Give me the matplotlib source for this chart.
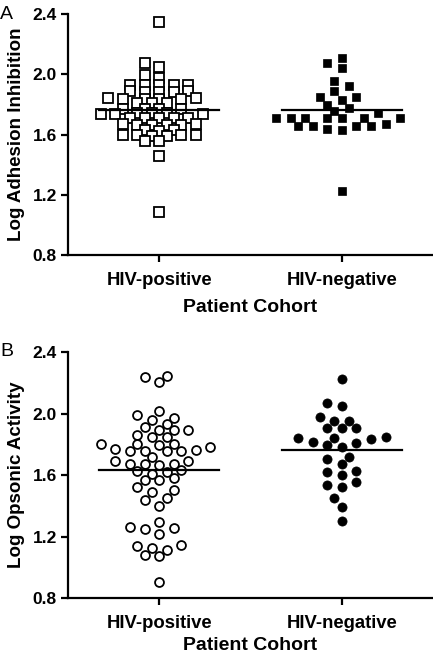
import matplotlib
matplotlib.use("Agg")
import matplotlib.pyplot as plt
import numpy as np

plt.rcParams['font.family'] = ['Liberation Sans', 'DejaVu Sans']

# data
cohorts = ["HIV-positive", "HIV-negative"]

adh_pos = [2.349, 2.078, 2.052, 1.997, 1.979,
           1.931, 1.929, 1.933, 1.930, 1.932,
           1.886, 1.888, 1.885, 1.887, 1.884,
           1.840, 1.838, 1.841, 1.839, 1.842, 1.837,
           1.808, 1.810, 1.807,
           1.772, 1.770, 1.773, 1.771,
           1.740, 1.742, 1.739, 1.741, 1.738, 1.743,
           1.712, 1.714, 1.711, 1.713, 1.710,
           1.666, 1.668, 1.665, 1.667, 1.664, 1.669,
           1.628, 1.630, 1.626,
           1.595, 1.597, 1.594, 1.596, 1.593, 1.598,
           1.556, 1.555, 1.457, 1.087]
adh_neg = [2.107, 2.078, 2.041, 1.959, 1.924, 1.891,
           1.848, 1.831, 1.853, 1.798, 1.777, 1.743, 1.754,
           1.712, 1.712, 1.712, 1.712, 1.712, 1.712, 1.712,
           1.655, 1.655, 1.638, 1.633, 1.655, 1.659, 1.673,
           1.225]

ops_pos = [2.235, 2.203, 2.246, 2.018, 1.988, 1.958, 1.932, 1.971,
           1.891, 1.891, 1.891, 1.910, 1.849, 1.849, 1.862,
           1.800, 1.797, 1.784, 1.800, 1.800,
           1.771, 1.763, 1.758, 1.754, 1.758, 1.758,
           1.719, 1.693, 1.693, 1.670, 1.672, 1.665, 1.672,
           1.633, 1.622, 1.607, 1.624, 1.578, 1.567, 1.567,
           1.524, 1.502, 1.487, 1.437, 1.452, 1.400,
           1.296, 1.253, 1.247, 1.260, 1.216,
           1.145, 1.128, 1.080, 1.073, 1.112, 1.140, 0.906]
ops_neg = [2.224, 2.051, 2.066, 1.979, 1.951, 1.951,
           1.904, 1.904, 1.908, 1.839, 1.832, 1.845, 1.817, 1.839,
           1.806, 1.780, 1.795, 1.704, 1.719, 1.672,
           1.617, 1.600, 1.628, 1.557, 1.535, 1.524,
           1.448, 1.394, 1.301]

yticks = [0.8, 1.2, 1.6, 2.0, 2.4]


def swarm(ax, vals, rx, ry, step=7.3):
    # beeswarm on a grid of half steps (pixel space), offsets in data units
    # two points collide when (dx/rx)^2 + (dy/ry)^2 < 1
    p0 = ax.transData.transform((0, 0))
    p1 = ax.transData.transform((1, 1))
    sx, sy = p1[0] - p0[0], p1[1] - p0[1]
    ys = np.asarray(vals) * sy
    xs = np.zeros(len(ys))
    placed = []
    order = [0] + [s * k for k in range(1, 20) for s in (-1, 1)]
    for i in np.argsort(ys, kind='stable'):
        y = ys[i]
        for k in order:
            c = k * step
            if all(((c - px) / rx) ** 2 + ((y - py) / ry) ** 2 >= 1 for px, py in placed):
                break
        xs[i] = c
        placed.append((c, y))
    return xs / sx


def panel(ax, pos, neg, marker, ylabel, letter, rpos, rneg, ms_open, ms_fill, xlpad):
    ax.set_xlim(-0.5, 1.5)
    ax.set_ylim(0.8, 2.4)
    xo = swarm(ax, pos, *rpos)
    ax.plot(0 + xo, pos, ls='none', marker=marker, ms=ms_open, mfc='white',
            mec='black', mew=1.3, zorder=3)
    xo = swarm(ax, neg, *rneg)
    ax.plot(1 + xo, neg, ls='none', marker=marker, ms=ms_fill, mfc='black',
            mec='black', mew=0.5, zorder=3)
    for i, v in enumerate([pos, neg]):
        m = np.mean(v)
        ax.plot([i - 0.33, i + 0.33], [m, m], color='black', lw=1.6, zorder=4)

    for s in ['top', 'right']:
        ax.spines[s].set_visible(False)
    for s in ['left', 'bottom']:
        ax.spines[s].set_linewidth(1.6)
    ax.set_yticks(yticks)
    ax.set_yticklabels([f"{t:.1f}" for t in yticks], fontsize=12.5, fontweight='bold')
    ax.set_xticks([0, 1])
    ax.set_xticklabels(cohorts, fontsize=13.3, fontweight='bold')
    ax.tick_params(axis='both', direction='out', width=1.6, length=5, pad=3)
    ax.tick_params(axis='x', pad=7)
    ax.set_xlabel("Patient Cohort", fontsize=14, fontweight='bold', labelpad=xlpad)
    ax.set_ylabel(ylabel, fontsize=13.5, fontweight='bold')
    ax.yaxis.set_label_coords(-0.118, 0.5)
    ax.text(-0.185, 1.035, letter, transform=ax.transAxes, fontsize=14,
            ha='left', va='top')


fig = plt.figure(figsize=(4.33, 6.56), dpi=100)
axA = fig.add_axes([0.157, 0.611, 0.843, 0.3674])
axB = fig.add_axes([0.157, 0.0884, 0.843, 0.375])

panel(axA, adh_pos, adh_neg, 's', "Log Adhesion Inhibition", "A",
      (11.0, 6.0), (9.5, 9.5), 6.6, 6.4, 7)
panel(axB, ops_pos, ops_neg, 'o', "Log Opsonic Activity", "B",
      (9.3, 9.3), (9.5, 9.5), 6.4, 6.6, 4)

fig.savefig("out.png", dpi=100)
